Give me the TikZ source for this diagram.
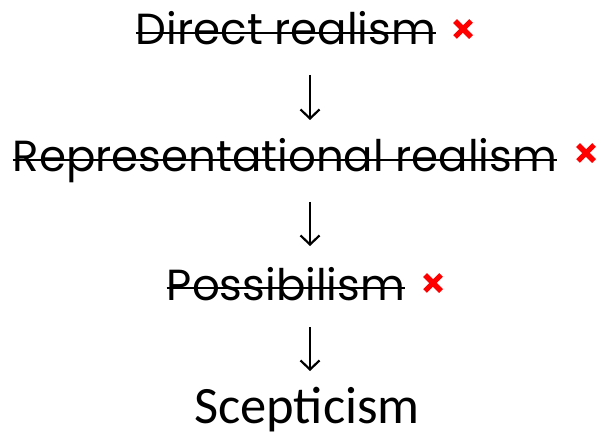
\documentclass[tikz,border=0pt]{standalone}
\usepackage{fontspec}
\setmainfont{Carlito}
\newfontfamily\geofont{Poppins}
\usetikzlibrary{arrows.meta}
\tikzset{
  x=1pt,y=-1pt,
  struck/.style={inner sep=0pt, anchor=base, font=\geofont\fontsize{43.5}{44}\selectfont},
  plain/.style={inner sep=0pt, anchor=base, font=\fontsize{52.5}{53}\selectfont},
  strike/.style={line width=2.6pt, black},
  cross/.style={inner sep=0pt, minimum size=24pt, path picture={
      \draw[red, line width=5.5pt] ([shift={(4pt,-4pt)}]path picture bounding box.north west) -- ([shift={(-4pt,4pt)}]path picture bounding box.south east);
      \draw[red, line width=5pt] ([shift={(4pt,4pt)}]path picture bounding box.south west) -- ([shift={(-4pt,-4pt)}]path picture bounding box.north east);
  }},
  arr/.style={line width=2.2pt, -{Straight Barb[length=9pt,width=19pt,line width=2.2pt]}}
}
\begin{document}
\begin{tikzpicture}
\useasboundingbox (0,0) rectangle (601,435);
\node[struck] (t1) at (286,45) {Direct realism};
\node[struck] (t2) at (285,172) {Representational realism};
\node[struck] (t3) at (286,300) {Possibilism};
\node[plain] (t4) at (307,423) {Scepticism};
\draw[strike] (t1.west |- 0,33) -- (t1.east |- 0,33);
\draw[strike] (t2.west |- 0,160) -- (t2.east |- 0,160);
\draw[strike] (t3.west |- 0,288) -- (t3.east |- 0,288);
\node[cross] (x1) at (463,29) {};
\node[cross] (x2) at (586,153) {};
\node[cross] (x3) at (433,283) {};
\coordinate (a1s) at (310,75); \coordinate (a1e) at (310,120);
\coordinate (a2s) at (310,202); \coordinate (a2e) at (310,246);
\coordinate (a3s) at (310,327); \coordinate (a3e) at (310,371);
\draw[arr] (a1s) -- (a1e);
\draw[arr] (a2s) -- (a2e);
\draw[arr] (a3s) -- (a3e);
\end{tikzpicture}
\end{document}
